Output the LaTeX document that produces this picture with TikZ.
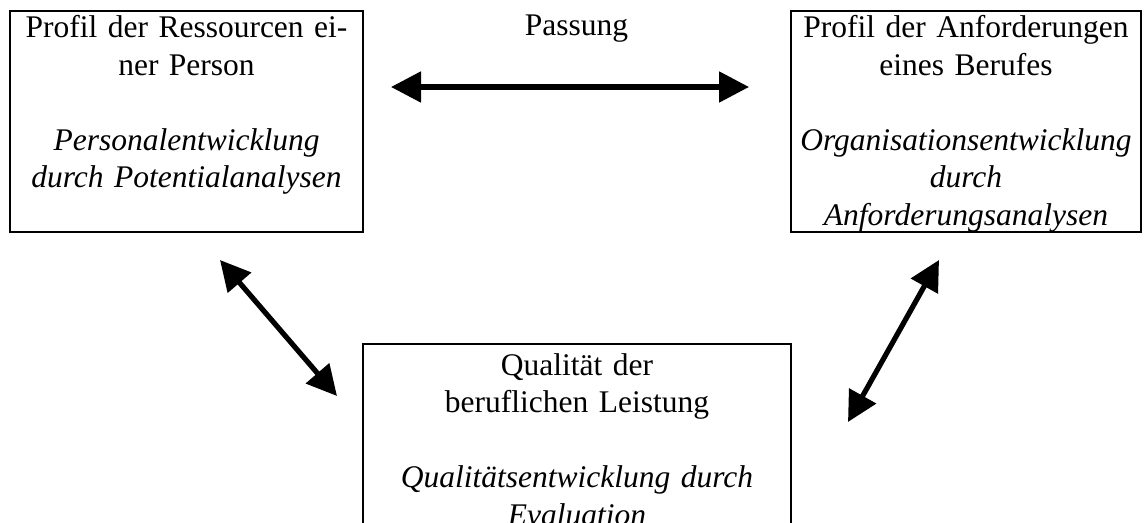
\documentclass[tikz,border=0pt]{standalone}
\usepackage{fontspec}
\setmainfont{Liberation Serif}
\usetikzlibrary{arrows.meta}

\begin{document}
\begin{tikzpicture}[x=0.5pt,y=-0.5pt,
        boxframe/.style={draw,line width=1pt,inner sep=0pt,minimum height=110.5pt},
        boxtext/.style={anchor=base,align=center,inner sep=0pt,font=\fontsize{15.75pt}{18.75pt}\selectfont},
        fitarrow/.style={{Triangle[length=15pt,width=15pt]}-{Triangle[length=15pt,width=15pt]},line width=2.6pt}]
        \useasboundingbox (0,0) rectangle (1144,523);

        % Kaesten
        \node [boxframe,minimum width=176.5pt] (res) at (186.5,121.5) {};
        \node [boxframe,minimum width=175pt] (anf) at (966,121.5) {};
        \node [boxframe,minimum width=214pt,minimum height=108pt] (qual) at (577,452) {};

        % Texte
        \node [boxtext,text width=174pt] (restext) at (186.5,38) {Profil der Ressourcen ei-\\ner Person\\[18.75pt]\textit{Personalentwicklung}\\\textit{durch Potentialanalysen}};
        \node [boxtext,text width=174pt] (anftext) at (966,38) {Profil der Anforderungen\\eines Berufes\\[18.75pt]\textit{Organisationsentwicklung}\\\textit{durch}\\\textit{Anforderungsanalysen}};
        \node [boxtext,text width=210pt] (qualtext) at (577,375) {Qualität der\\beruflichen Leistung\\[18.75pt]\textit{Qualitätsentwicklung durch}\\\textit{Evaluation}};
        \node [boxtext] (passung) at (576.5,36) {Passung};

        % Pfeile
        \coordinate (pl) at (391,87);
        \coordinate (pr) at (749,87);
        \coordinate (rl) at (220,260);
        \coordinate (ql) at (337,396);
        \coordinate (ar) at (939,260);
        \coordinate (qr) at (848,422);
        \draw [fitarrow] (pl) -- (pr);
        \draw [fitarrow] (rl) -- (ql);
        \draw [fitarrow] (ar) -- (qr);
    \end{tikzpicture}
\end{document}
